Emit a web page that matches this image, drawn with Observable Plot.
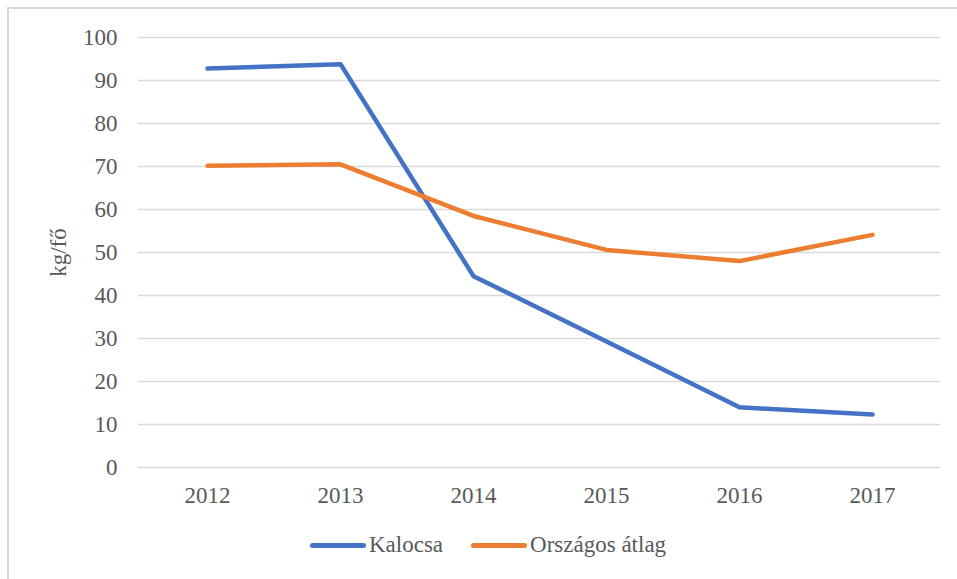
<!DOCTYPE html>
<html>
<head>
<meta charset="utf-8">
<script src="https://cdn.jsdelivr.net/npm/d3@7"></script>
<script src="https://cdn.jsdelivr.net/npm/@observablehq/plot@0.6"></script>
<style>
  html, body { margin: 0; padding: 0; background: #fff; }
  #wrap { position: relative; width: 957px; height: 579px; overflow: hidden; font-family: "Liberation Serif", "DejaVu Serif", serif; }
  #frame { position: absolute; left: 7px; top: 7px; width: 960px; height: 580px; border-left: 2px solid #d9d9d9; border-top: 2px solid #d9d9d9; box-sizing: border-box; }
  #chart { position: absolute; left: 0; top: 0; }
  #chart svg, #chart svg text { font-family: "Liberation Serif", "DejaVu Serif", serif !important; }
  #legend { position: absolute; left: 310px; top: 532px; display: flex; align-items: center; font-size: 23px; color: #595959; white-space: nowrap; }
  .item { display: flex; align-items: center; margin-right: 28px; }
  .sw { display: inline-block; width: 56px; height: 5px; border-radius: 3px; margin-right: 3px; }
</style>
</head>
<body>
<div id="wrap">
  <div id="frame"></div>
  <div id="chart"></div>
  <div id="legend"></div>
</div>
<script>
const years = ["2012", "2013", "2014", "2015", "2016", "2017"];
const seriesNames = ["Kalocsa", "Országos átlag"];
const kalocsa = [92.8, 93.8, 44.5, 29.3, 14.0, 12.3];
const orszagos = [70.2, 70.5, 58.5, 50.6, 48.0, 54.1];
const yTicks = [0, 10, 20, 30, 40, 50, 60, 70, 80, 90, 100];
const colors = ["#4472C4", "#ED7D31"];

const data = [
  ...years.map((y, i) => ({year: y, value: kalocsa[i], series: seriesNames[0]})),
  ...years.map((y, i) => ({year: y, value: orszagos[i], series: seriesNames[1]}))
];

const chart = Plot.plot({
  width: 957,
  height: 520,
  marginTop: 37,
  marginBottom: 53,
  marginLeft: 138,
  marginRight: 17,
  style: {fontFamily: "'Liberation Serif', 'DejaVu Serif', serif", fontSize: "23px", color: "#595959", background: "transparent", overflow: "visible"},
  x: {type: "point", domain: years, padding: 0.5, label: null},
  y: {domain: [0, 100], label: "kg/fő"},
  color: {domain: seriesNames, range: colors},
  marks: [
    Plot.ruleY(yTicks, {stroke: "#d9d9d9", strokeWidth: 1.5}),
    Plot.axisX({tickSize: 0, tickPadding: 19, label: null, fill: "#595959"}),
    Plot.axisY(yTicks, {tickSize: 0, tickPadding: 21, label: "kg/fő", labelAnchor: "center", labelOffset: 89, labelArrow: "none", fill: "#595959"}),
    Plot.line(data, {x: "year", y: "value", z: "series", stroke: "series", strokeWidth: 4.5, strokeLinecap: "round", strokeLinejoin: "round"})
  ]
});
document.getElementById("chart").appendChild(chart);

const legend = document.getElementById("legend");
seriesNames.forEach((name, i) => {
  const item = document.createElement("div");
  item.className = "item";
  const sw = document.createElement("span");
  sw.className = "sw";
  sw.style.background = colors[i];
  const t = document.createElement("span");
  t.textContent = name;
  item.appendChild(sw);
  item.appendChild(t);
  legend.appendChild(item);
});
</script>
</body>
</html>
